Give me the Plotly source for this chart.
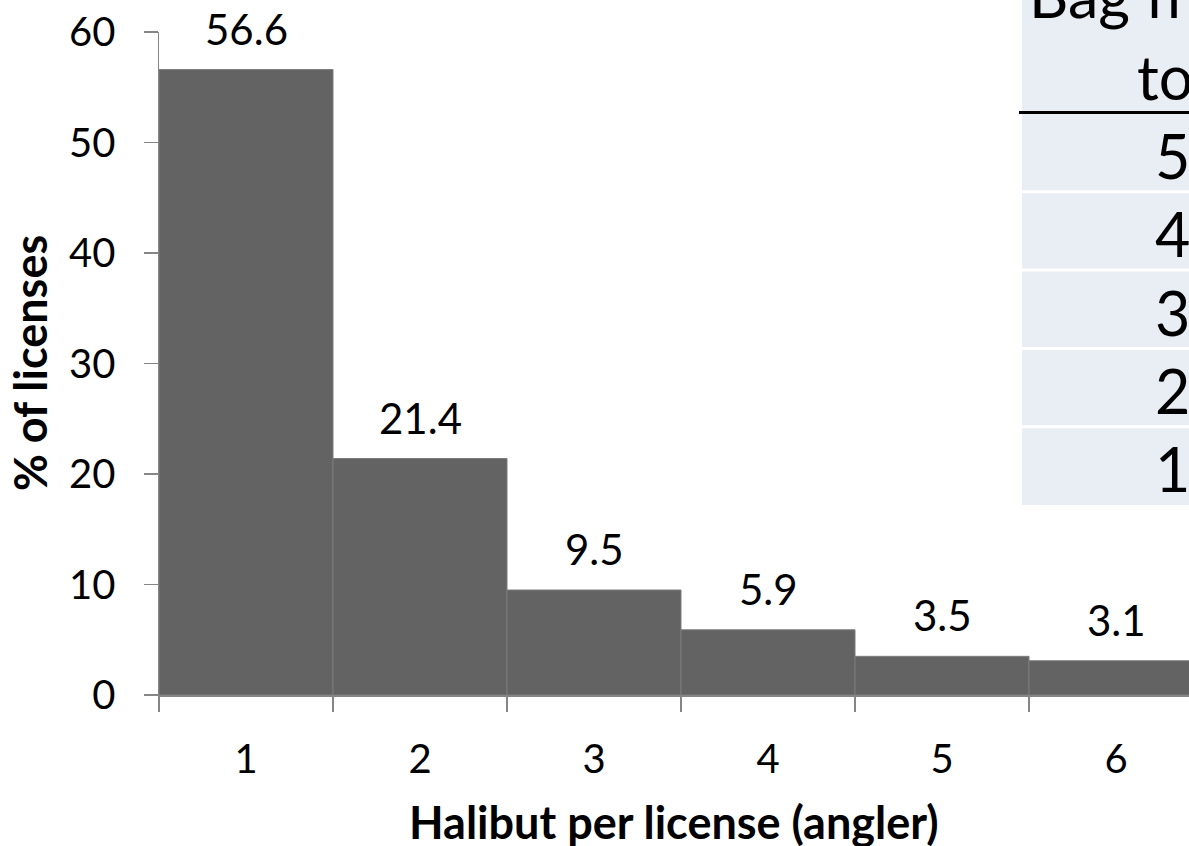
import plotly.graph_objects as go

# ---- data ----
categories = ["1", "2", "3", "4", "5", "6"]
pct_licenses = [56.6, 21.4, 9.5, 5.9, 3.5, 3.1]
y_ticks = [0, 10, 20, 30, 40, 50, 60]
table_header = ["Bag from", "to"]
table_rows = ["5", "4", "3", "2", "1"]

W, H = 1189, 846
ML, MR, MT, MB = 159, 0, 32, 151
PW = W - ML - MR
PH = H - MT - MB

def px_x(p):
    return (p - ML) / PW

def px_y(p):
    return (H - MB - p) / PH

FONT = "Lato"
BAR = "#636363"
AXIS = "#868686"

fig = go.Figure()
fig.add_trace(go.Bar(
    x=categories, y=pct_licenses,
    marker=dict(color=BAR, line=dict(color="#7d7d7d", width=1)),
    hoverinfo="skip",
))

annotations = []
for i, v in enumerate(pct_licenses):
    annotations.append(dict(
        x=i, y=v, xref="x", yref="y", text=f"{v:.1f}", showarrow=False,
        yshift=41, yanchor="middle", xanchor="center",
        font=dict(family=FONT, size=42, color="#000000"),
    ))

# axis titles
annotations.append(dict(
    x=0.5, y=px_y(822), xref="paper", yref="paper",
    text="<b>Halibut per license (angler)</b>", showarrow=False,
    xanchor="center", yanchor="middle",
    font=dict(family=FONT, size=45, color="#000000"),
))
annotations.append(dict(
    x=px_x(30), y=px_y(363), xref="paper", yref="paper",
    text="<b>% of licenses</b>", showarrow=False, textangle=-90,
    xanchor="center", yanchor="middle",
    font=dict(family=FONT, size=45, color="#000000"),
))

# partially visible table on the right
TBL_L = 1022
TBL_FILL = "#E9EDF4"
shapes = [
    dict(type="rect", xref="paper", yref="paper",
         x0=px_x(TBL_L), x1=px_x(W + 50), y0=px_y(505), y1=px_y(-50),
         fillcolor=TBL_FILL, line=dict(width=0), layer="below"),
    dict(type="line", xref="paper", yref="paper",
         x0=px_x(1019), x1=px_x(W + 50), y0=px_y(112.5), y1=px_y(112.5),
         line=dict(color="#000000", width=3)),
]
ROW_TOP, ROW_H = 113.5, 78.3
for i in range(1, len(table_rows)):
    yb = ROW_TOP + i * ROW_H
    shapes.append(dict(type="line", xref="paper", yref="paper",
                       x0=px_x(TBL_L), x1=px_x(W + 50), y0=px_y(yb), y1=px_y(yb),
                       line=dict(color="#FFFFFF", width=3)))
for i, t in enumerate(table_rows):
    yc = ROW_TOP + (i + 0.5) * ROW_H + 3
    annotations.append(dict(
        x=px_x(1153), y=px_y(yc), xref="paper", yref="paper", text=t,
        showarrow=False, xanchor="left", yanchor="middle",
        font=dict(family=FONT, size=61, color="#000000"),
    ))
header_pos = [(1027, -5), (1135, 76)]
for t, (hx, hy) in zip(table_header, header_pos):
    annotations.append(dict(
        x=px_x(hx), y=px_y(hy), xref="paper", yref="paper", text=t,
        showarrow=False, xanchor="left", yanchor="middle",
        font=dict(family=FONT, size=61, color="#000000"),
    ))

fig.update_layout(
    width=W, height=H,
    margin=dict(l=ML, r=MR, t=MT, b=MB, pad=0),
    paper_bgcolor="#FFFFFF", plot_bgcolor="#FFFFFF",
    showlegend=False, bargap=0,
    font=dict(family=FONT, size=40, color="#000000"),
    annotations=annotations, shapes=shapes,
    xaxis=dict(
        type="category", categoryorder="array", categoryarray=categories,
        range=[-0.5, -0.5 + PW / (1027 - 853)], tickson="boundaries",
        ticks="outside", ticklen=15, tickcolor=AXIS, tickwidth=1.5,
        showline=True, linecolor=AXIS, linewidth=1.5,
        showgrid=False, zeroline=False,
        tickfont=dict(family=FONT, size=40, color="#000000"),
        ticklabelstandoff=28,
    ),
    yaxis=dict(
        range=[0, 60], tickvals=y_ticks,
        ticks="outside", ticklen=14, tickcolor=AXIS, tickwidth=1.5,
        showline=True, linecolor=AXIS, linewidth=1.5,
        showgrid=False, zeroline=False,
        tickfont=dict(family=FONT, size=40, color="#000000"),
        ticklabelstandoff=20,
    ),
)

fig.write_html(
    "out.html",
    config={"displayModeBar": False, "staticPlot": True},
    post_script="document.body.style.margin='0';document.body.style.overflow='hidden';",
)
